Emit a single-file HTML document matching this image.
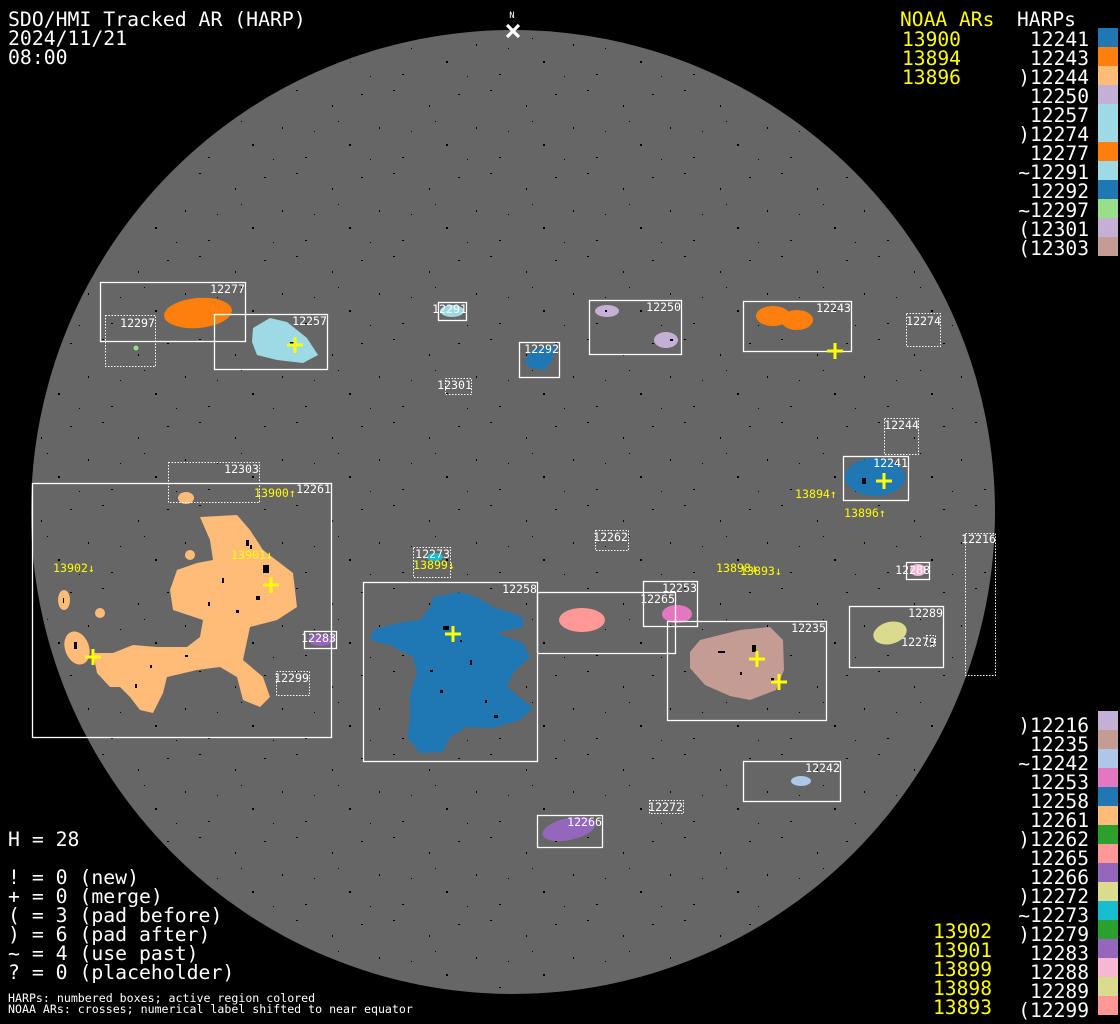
<!DOCTYPE html>
<html><head><meta charset="utf-8"><style>
html,body{margin:0;padding:0;background:#000;}
svg{display:block}
text{font-family:"DejaVu Sans Mono","Liberation Mono",monospace;}
</style></head><body>
<svg width="1120" height="1024" viewBox="0 0 1120 1024" xmlns="http://www.w3.org/2000/svg">
<defs>
<pattern id="sp" width="97" height="83" patternUnits="userSpaceOnUse">
<rect x="5" y="7" width="2" height="1" fill="#000"/>
<rect x="41" y="22" width="1" height="2" fill="#000"/>
<rect x="70" y="11" width="2" height="1" fill="#000"/>
<rect x="23" y="48" width="1" height="1" fill="#000"/>
<rect x="58" y="61" width="2" height="2" fill="#000"/>
<rect x="88" y="44" width="1" height="2" fill="#000"/>
<rect x="14" y="74" width="2" height="1" fill="#000"/>
<rect x="79" y="76" width="1" height="1" fill="#000"/>
<rect x="47" y="38" width="1" height="1" fill="#000"/>
</pattern>
<clipPath id="dc"><circle cx="513" cy="512" r="478"/></clipPath>
</defs>
<rect width="1120" height="1024" fill="#000"/>
<circle cx="513" cy="512" r="482" fill="#666"/>
<rect width="1120" height="1024" fill="url(#sp)" clip-path="url(#dc)"/>

<g>
<path fill="#ffbb78" d="M200,517 L237,515 L250,530 L263,550 L293,573 L297,607 L277,620 L250,627 L243,660 L263,677 L270,697 L260,707 L243,700 L237,677 L220,667 L197,670 L167,677 L163,693 L153,713 L140,710 L130,697 L120,687 L110,687 L97,673 L93,653 L113,653 L133,645 L157,647 L187,647 L200,637 L203,620 L173,610 L170,590 L177,570 L197,563 L213,560 L210,540 Z"/>
<ellipse cx="77" cy="648" rx="12" ry="17" transform="rotate(-20 77 648)" fill="#ffbb78"/>
<ellipse cx="64" cy="600" rx="6" ry="10" fill="#ffbb78"/>
<circle cx="100" cy="613" r="5" fill="#ffbb78"/>
<circle cx="190" cy="555" r="5" fill="#ffbb78"/>
<ellipse cx="186" cy="498" rx="8" ry="6" fill="#ffbb78"/>

<path fill="#1f77b4" d="M433,597 L460,592 L477,597 L493,607 L523,617 L523,627 L497,633 L523,643 L530,657 L513,673 L507,687 L533,708 L520,720 L493,728 L467,727 L450,737 L443,752 L420,753 L407,737 L410,720 L410,693 L417,673 L413,657 L390,645 L370,640 L373,630 L397,623 L420,620 L430,607 Z"/>

<path fill="#c49c94" d="M700,640 L740,630 L770,627 L783,640 L784,670 L776,690 L750,700 L730,696 L705,685 L690,668 L690,652 Z"/>
<ellipse cx="875" cy="477" rx="30" ry="19" fill="#1f77b4"/>
<ellipse cx="198" cy="313" rx="34" ry="15" transform="rotate(-5 198 313)" fill="#ff7f0e"/>
<path fill="#9edae5" d="M253,328 L270,318 L287,322 L307,338 L318,355 L303,363 L277,360 L257,355 L252,342 Z"/>
<ellipse cx="773" cy="316" rx="17" ry="10" fill="#ff7f0e"/>
<ellipse cx="797" cy="320" rx="16" ry="10" fill="#ff7f0e"/>
<ellipse cx="607" cy="311" rx="12" ry="6" fill="#c5b0d5"/>
<ellipse cx="666" cy="340" rx="12" ry="8" fill="#c5b0d5"/>
<path fill="#1f77b4" d="M532,350 L556,345 L552,360 L545,370 L530,368 L524,362 Z"/>
<ellipse cx="452" cy="311" rx="12" ry="6" fill="#9edae5"/>
<ellipse cx="582" cy="620" rx="23" ry="12" fill="#ff9896"/>
<ellipse cx="677" cy="614" rx="15" ry="9" fill="#e377c2"/>
<ellipse cx="890" cy="633" rx="17" ry="11" transform="rotate(-15 890 633)" fill="#dbdb8d"/>
<ellipse cx="569" cy="829" rx="27" ry="11" transform="rotate(-12 569 829)" fill="#9467bd"/>
<ellipse cx="801" cy="781" rx="10" ry="5" fill="#aec7e8"/>
<ellipse cx="321" cy="640" rx="13" ry="6" fill="#9467bd"/>
<ellipse cx="918" cy="570" rx="8" ry="6" fill="#f7b6d2"/>
<ellipse cx="435" cy="557" rx="8" ry="4" fill="#17becf"/>
<circle cx="136" cy="348" r="2.5" fill="#98df8a"/>
</g>
<g fill="#000">
<rect x="246" y="540" width="3" height="6"/><rect x="250" y="545" width="2" height="4"/><rect x="263" y="565" width="6" height="8"/><rect x="256" y="596" width="4" height="4"/><rect x="222" y="578" width="2" height="5"/><rect x="208" y="602" width="2" height="4"/><rect x="236" y="610" width="3" height="3"/><rect x="185" y="655" width="3" height="2"/><rect x="150" y="665" width="2" height="3"/><rect x="135" y="684" width="2" height="4"/><rect x="74" y="642" width="3" height="7"/><rect x="63" y="598" width="1" height="5"/>
<rect x="443" y="626" width="6" height="4"/><rect x="470" y="660" width="2" height="5"/><rect x="440" y="690" width="3" height="3"/><rect x="494" y="715" width="4" height="3"/><rect x="460" y="640" width="2" height="2"/><rect x="485" y="700" width="2" height="3"/><rect x="430" y="670" width="3" height="2"/>
<rect x="718" y="651" width="7" height="2"/><rect x="752" y="645" width="4" height="7"/><rect x="771" y="678" width="3" height="3"/><rect x="740" y="672" width="2" height="3"/>
<rect x="862" y="478" width="4" height="6"/><rect x="290" y="342" width="4" height="3"/><rect x="670" y="339" width="3" height="2"/><rect x="605" y="310" width="2" height="2"/>
</g>

<g fill="none" stroke="#fff" stroke-width="1.3">
<rect x="100.5" y="282.5" width="145" height="59"/>
<rect x="214.5" y="314.5" width="113" height="55"/>
<rect x="438.5" y="302.5" width="28" height="18"/>
<rect x="519.5" y="342.5" width="40" height="35"/>
<rect x="589.5" y="300.5" width="92" height="54"/>
<rect x="743.5" y="301.5" width="108" height="50"/>
<rect x="843.5" y="456.5" width="65" height="44"/>
<rect x="32.5" y="483.5" width="299" height="254"/>
<rect x="363.5" y="582.5" width="174" height="179"/>
<rect x="537.5" y="592.5" width="138" height="61"/>
<rect x="643.5" y="581.5" width="54" height="45"/>
<rect x="667.5" y="621.5" width="159" height="99"/>
<rect x="849.5" y="606.5" width="94" height="61"/>
<rect x="304.5" y="631.5" width="32" height="17"/>
<rect x="906.5" y="562.5" width="23" height="17"/>
<rect x="743.5" y="761.5" width="97" height="40"/>
<rect x="537.5" y="815.5" width="65" height="32"/>
</g>
<g fill="none" stroke="#fff" stroke-width="1" stroke-dasharray="1.5,1.5">
<rect x="105.5" y="315.5" width="50" height="51"/>
<rect x="445.5" y="378.5" width="26" height="16"/>
<rect x="906.5" y="313.5" width="34" height="33"/>
<rect x="884.5" y="418.5" width="34" height="36"/>
<rect x="168.5" y="462.5" width="91" height="40"/>
<rect x="413.5" y="547.5" width="37" height="30"/>
<rect x="595.5" y="530.5" width="33" height="20"/>
<rect x="965.5" y="533.5" width="30" height="142"/>
<rect x="276.5" y="671.5" width="33" height="24"/>
<rect x="926.5" y="635.5" width="9" height="11"/>
<rect x="649.5" y="800.5" width="34" height="13"/>
</g>

<g fill="#fff" font-size="11.6" text-anchor="end">
<text x="245" y="293">12277</text>
<text x="155" y="327">12297</text>
<text x="327" y="325">12257</text>
<text x="467" y="313">12291</text>
<text x="559" y="353">12292</text>
<text x="472" y="389">12301</text>
<text x="681" y="311">12250</text>
<text x="851" y="312">12243</text>
<text x="941" y="325">12274</text>
<text x="919" y="429">12244</text>
<text x="908" y="467">12241</text>
<text x="259" y="473">12303</text>
<text x="331" y="493">12261</text>
<text x="450" y="558">12273</text>
<text x="628" y="541">12262</text>
<text x="996" y="543">12216</text>
<text x="537" y="593">12258</text>
<text x="697" y="592">12253</text>
<text x="675" y="603">12265</text>
<text x="826" y="632">12235</text>
<text x="943" y="617">12289</text>
<text x="936" y="646">12279</text>
<text x="336" y="642">12283</text>
<text x="930" y="574">12288</text>
<text x="309" y="682">12299</text>
<text x="840" y="772">12242</text>
<text x="683" y="811">12272</text>
<text x="602" y="826">12266</text>
</g>

<g fill="#ff0" font-size="11.6">
<text x="254" y="497">13900↑</text>
<text x="795" y="498">13894↑</text>
<text x="844" y="517">13896↑</text>
<text x="53" y="572">13902↓</text>
<text x="231" y="559">13901↓</text>
<text x="413" y="569">13899↓</text>
<text x="716" y="572">13898↓</text>
<text x="740" y="575">13893↓</text>
</g>
<g stroke="#ff0" stroke-width="3">
<path d="M287,345h16M295,337v16"/>
<path d="M827,351h16M835,343v16"/>
<path d="M876,481h16M884,473v16"/>
<path d="M263,585h16M271,577v16"/>
<path d="M85,657h16M93,649v16"/>
<path d="M445,634h16M453,626v16"/>
<path d="M749,659h16M757,651v16"/>
<path d="M771,682h16M779,674v16"/>
</g>

<path d="M507,25l12,12M519,25l-12,12" stroke="#fff" stroke-width="3.2"/>
<text x="512" y="18" fill="#fff" font-size="9" text-anchor="middle">N</text>

<g fill="#fff" font-size="19.8">
<text x="8" y="26">SDO/HMI Tracked AR (HARP)</text>
<text x="8" y="45">2024/11/21</text>
<text x="8" y="64">08:00</text>
<text x="8" y="846">H = 28</text>
<text x="8" y="884">! = 0 (new)</text>
<text x="8" y="903">+ = 0 (merge)</text>
<text x="8" y="922">( = 3 (pad before)</text>
<text x="8" y="941">) = 6 (pad after)</text>
<text x="8" y="960">~ = 4 (use past)</text>
<text x="8" y="979">? = 0 (placeholder)</text>
</g>
<g fill="#fff" font-size="11.6">
<text x="8" y="1002">HARPs: numbered boxes; active region colored</text>
<text x="8" y="1013">NOAA ARs: crosses; numerical label shifted to near equator</text>
</g>

<g fill="#ff0" font-size="19.6">
<text x="900" y="26">NOAA ARs</text>
<text x="902" y="46">13900</text>
<text x="902" y="65">13894</text>
<text x="902" y="84">13896</text>
</g>
<text x="1017" y="26" fill="#fff" font-size="19.6">HARPs</text>
<g fill="#fff" font-size="19.6" text-anchor="end">
<text x="1089" y="46">12241</text>
<text x="1089" y="65">12243</text>
<text x="1089" y="84">)12244</text>
<text x="1089" y="103">12250</text>
<text x="1089" y="122">12257</text>
<text x="1089" y="141">)12274</text>
<text x="1089" y="160">12277</text>
<text x="1089" y="179">~12291</text>
<text x="1089" y="198">12292</text>
<text x="1089" y="217">~12297</text>
<text x="1089" y="236">(12301</text>
<text x="1089" y="255">(12303</text>
</g>
<g>
<rect x="1098" y="28" width="20" height="19" fill="#1f77b4"/>
<rect x="1098" y="47" width="20" height="19" fill="#ff7f0e"/>
<rect x="1098" y="66" width="20" height="19" fill="#ffbb78"/>
<rect x="1098" y="85" width="20" height="19" fill="#c5b0d5"/>
<rect x="1098" y="104" width="20" height="19" fill="#9edae5"/>
<rect x="1098" y="123" width="20" height="19" fill="#9edae5"/>
<rect x="1098" y="142" width="20" height="19" fill="#ff7f0e"/>
<rect x="1098" y="161" width="20" height="19" fill="#9edae5"/>
<rect x="1098" y="180" width="20" height="19" fill="#1f77b4"/>
<rect x="1098" y="199" width="20" height="19" fill="#98df8a"/>
<rect x="1098" y="218" width="20" height="19" fill="#c5b0d5"/>
<rect x="1098" y="237" width="20" height="19" fill="#c49c94"/>
</g>

<g fill="#fff" font-size="19.6" text-anchor="end">
<text x="1089" y="732">)12216</text>
<text x="1089" y="751">12235</text>
<text x="1089" y="770">~12242</text>
<text x="1089" y="789">12253</text>
<text x="1089" y="808">12258</text>
<text x="1089" y="827">12261</text>
<text x="1089" y="846">)12262</text>
<text x="1089" y="865">12265</text>
<text x="1089" y="884">12266</text>
<text x="1089" y="903">)12272</text>
<text x="1089" y="922">~12273</text>
<text x="1089" y="941">)12279</text>
<text x="1089" y="960">12283</text>
<text x="1089" y="979">12288</text>
<text x="1089" y="998">12289</text>
<text x="1089" y="1017">(12299</text>
</g>
<g fill="#ff0" font-size="19.6" text-anchor="end">
<text x="992" y="938">13902</text>
<text x="992" y="957">13901</text>
<text x="992" y="976">13899</text>
<text x="992" y="995">13898</text>
<text x="992" y="1014">13893</text>
</g>
<g>
<rect x="1098" y="711" width="20" height="19" fill="#c5b0d5"/>
<rect x="1098" y="730" width="20" height="19" fill="#c49c94"/>
<rect x="1098" y="749" width="20" height="19" fill="#aec7e8"/>
<rect x="1098" y="768" width="20" height="19" fill="#e377c2"/>
<rect x="1098" y="787" width="20" height="19" fill="#1f77b4"/>
<rect x="1098" y="806" width="20" height="19" fill="#ffbb78"/>
<rect x="1098" y="825" width="20" height="19" fill="#2ca02c"/>
<rect x="1098" y="844" width="20" height="19" fill="#ff9896"/>
<rect x="1098" y="863" width="20" height="19" fill="#9467bd"/>
<rect x="1098" y="882" width="20" height="19" fill="#dbdb8d"/>
<rect x="1098" y="901" width="20" height="19" fill="#17becf"/>
<rect x="1098" y="920" width="20" height="19" fill="#2ca02c"/>
<rect x="1098" y="939" width="20" height="19" fill="#9467bd"/>
<rect x="1098" y="958" width="20" height="19" fill="#f7b6d2"/>
<rect x="1098" y="977" width="20" height="19" fill="#dbdb8d"/>
<rect x="1098" y="996" width="20" height="19" fill="#ff9896"/>
</g>
</svg>
</body></html>
